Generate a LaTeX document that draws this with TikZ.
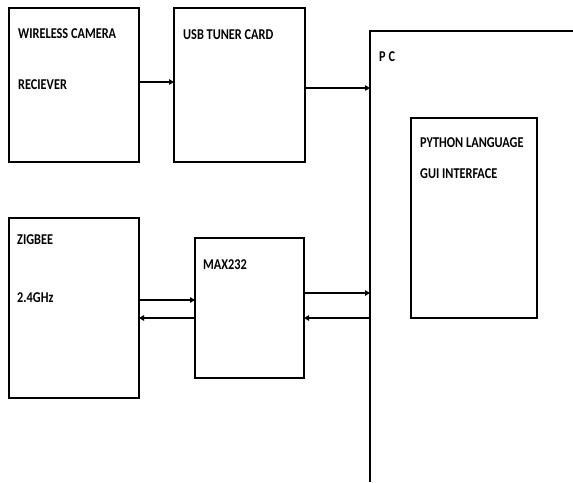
\documentclass[tikz,border=0pt]{standalone}
\usepackage{fontspec}
\setmainfont[FakeStretch=0.82]{Carlito}
\usetikzlibrary{arrows.meta}
\begin{document}
\begin{tikzpicture}[x=1pt,y=-1pt,
  blk/.style={draw, line width=1.8pt},
  lbl/.style={anchor=base west, inner sep=0pt, font=\bfseries\fontsize{15}{17}\selectfont},
  conn/.style={line width=1.8pt, -{Triangle[length=5pt,width=5.5pt]}}]
\useasboundingbox (0,0) rectangle (573,482);
\draw[blk] (9,8) rectangle (139,162);
\draw[blk] (174,8) rectangle (305,162);
\draw[blk] (9,218) rectangle (139,398);
\draw[blk] (195,238) rectangle (304,378);
\draw[blk] (411,118) rectangle (537,318);
\draw[blk] (370,482) -- (370,31) -- (573,31);
\coordinate (wcr) at (139,82); \coordinate (usbl) at (174,82);
\coordinate (usbr) at (305,88); \coordinate (pc1) at (370,88);
\coordinate (zr1) at (139,300); \coordinate (ml1) at (195,300);
\coordinate (zr2) at (139,318); \coordinate (ml2) at (195,318);
\coordinate (mr1) at (304,293); \coordinate (pc2) at (370,293);
\coordinate (mr2) at (304,318); \coordinate (pc3) at (370,318);
\draw[conn] (wcr) -- (usbl);
\draw[conn] (usbr) -- (pc1);
\draw[conn] (zr1) -- (ml1);
\draw[conn] (ml2) -- (zr2);
\draw[conn] (mr1) -- (pc2);
\draw[conn] (pc3) -- (mr2);
\node[lbl] (t1) at (18,38) {WIRELESS CAMERA};
\node[lbl] (t2) at (18,89) {RECIEVER};
\node[lbl] (t3) at (183,39) {USB TUNER CARD};
\node[lbl] (t4) at (17,244) {ZIGBEE};
\node[lbl] (t5) at (17,302) {2.4GHz};
\node[lbl] (t6) at (203,269) {MAX232};
\node[lbl] (t7) at (379,61) {P C};
\node[lbl] (t8) at (420,147) {PYTHON LANGUAGE};
\node[lbl] (t9) at (420,178) {GUI INTERFACE};
\end{tikzpicture}
\end{document}
